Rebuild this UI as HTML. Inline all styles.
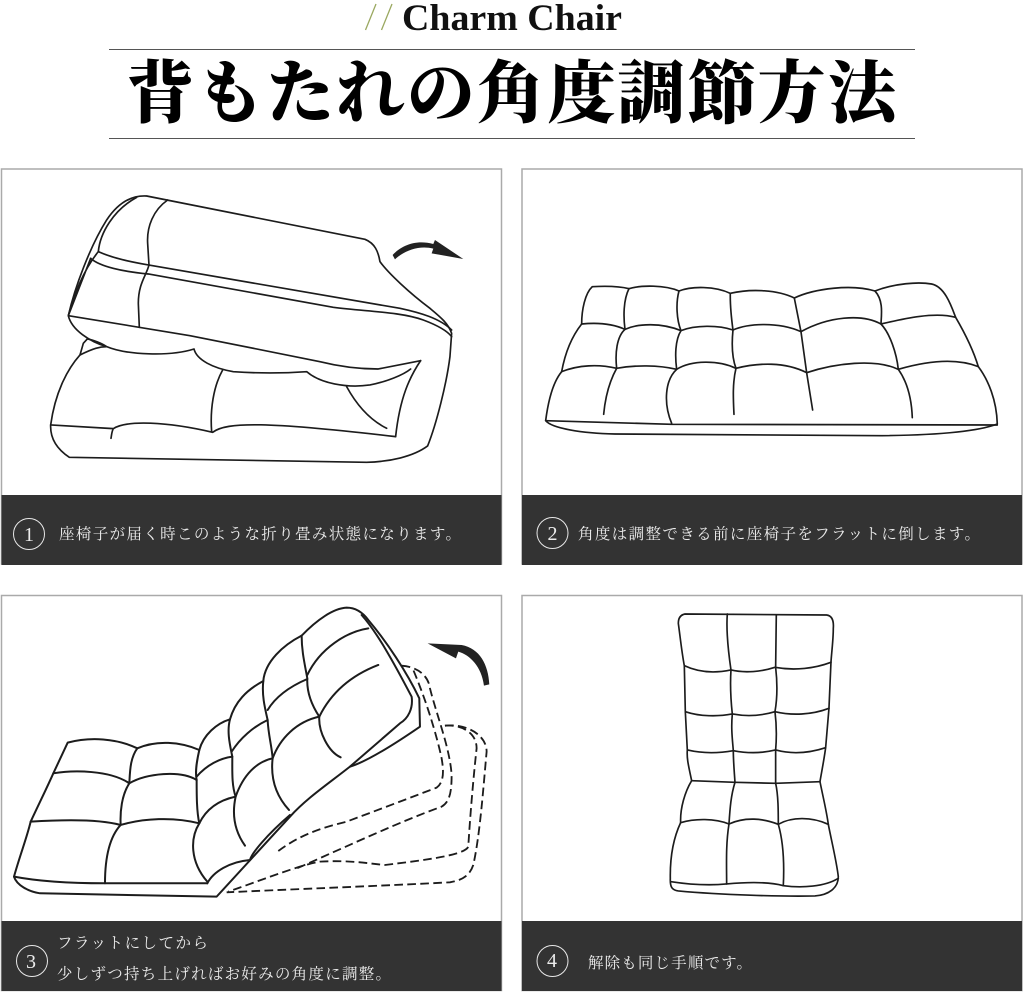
<!DOCTYPE html>
<html lang="ja"><head><meta charset="utf-8"><title>背もたれの角度調節方法</title>
<style>
html,body{margin:0;padding:0;background:#fff}
svg{display:block}
.cap{font-family:"Liberation Serif","Noto Serif CJK SC",serif;font-size:15.5px;fill:#ececec}
.num{font-family:"Liberation Serif",serif;font-size:20px;fill:#ececec;text-anchor:middle}
.l{fill:none;stroke:#1c1c1c;stroke-width:5;stroke-linejoin:round;stroke-linecap:round}
.t{stroke-width:6}
.d{fill:none;stroke:#1c1c1c;stroke-width:5.5;stroke-dasharray:26 13}
.p{fill:#fff;stroke:#aaa;stroke-width:1.5}
.b{fill:#333}
.c{fill:none;stroke:#e8e8e8;stroke-width:1}
</style></head><body>
<svg xmlns="http://www.w3.org/2000/svg" width="1024" height="995" viewBox="0 0 1024 995">
<rect width="1024" height="995" fill="#fff"/>

<line x1="365.500" y1="30" x2="376" y2="4" stroke="#9aa860" stroke-width="1.3"/>
<line x1="381.500" y1="30" x2="392" y2="4" stroke="#9aa860" stroke-width="1.3"/>
<text x="402" y="30" font-family="Liberation Serif,serif" font-weight="700" font-size="37" fill="#111" textLength="220" lengthAdjust="spacingAndGlyphs">Charm Chair</text>
<line x1="109" y1="49.500" x2="915" y2="49.500" stroke="#555" stroke-width="1"/>
<line x1="109" y1="138.500" x2="915" y2="138.500" stroke="#555" stroke-width="1"/>
<text x="126" y="117" font-family="Liberation Serif,Noto Serif CJK SC,serif" font-weight="900" font-size="68" fill="#000" textLength="770" lengthAdjust="spacing">背もたれの角度調節方法</text>

<rect class="p" x="1.5" y="169" width="500" height="395"/>
<rect class="p" x="522" y="169" width="500" height="395"/>
<rect class="p" x="1.5" y="595.5" width="500" height="395"/>
<rect class="p" x="522" y="595.5" width="500" height="395"/>
<rect class="b" x="1.5" y="495" width="500" height="70"/>
<rect class="b" x="522" y="495" width="500" height="70"/>
<rect class="b" x="1.5" y="921" width="500" height="70"/>
<rect class="b" x="522" y="921" width="500" height="70"/>

<circle class="c" cx="29" cy="534" r="15.500"/><text class="num" x="29" y="541">1</text>
<circle class="c" cx="552.500" cy="533" r="15.500"/><text class="num" x="552.500" y="540">2</text>
<circle class="c" cx="32" cy="961" r="15.500"/><text class="num" x="31" y="968">3</text>
<circle class="c" cx="552.500" cy="961" r="15.500"/><text class="num" x="552" y="967">4</text>

<text class="cap" x="59" y="539" textLength="402" lengthAdjust="spacing">座椅子が届く時このような折り畳み状態になります。</text>
<text class="cap" x="578" y="539" textLength="402" lengthAdjust="spacing">角度は調整できる前に座椅子をフラットに倒します。</text>
<text class="cap" x="57" y="948" textLength="151" lengthAdjust="spacing">フラットにしてから</text>
<text class="cap" x="57" y="979" textLength="334" lengthAdjust="spacing">少しずつ持ち上げればお好みの角度に調整。</text>
<text class="cap" x="588" y="968" textLength="164" lengthAdjust="spacing">解除も同じ手順です。</text>

<g transform="translate(0,170) scale(.3333)">
<path class="l" d="M205 437C225 350 270 230 320 150C350 105 390 75 440 78L1095 208C1125 220 1135 245 1140 275C1165 310 1230 370 1290 415C1320 440 1345 460 1355 490L1350 560C1340 640 1310 760 1283 828C1240 860 1170 875 1100 877L208 862C175 840 150 810 152 765C165 670 200 600 240 555L250 520L262 507"/>
<path class="l" d="M295 245C340 265 390 275 445 285L1200 415C1260 428 1320 445 1355 480"/>
<path class="l" d="M272 265C300 290 370 305 445 312L1000 412C1100 425 1200 425 1270 450C1310 465 1340 480 1355 500"/>
<path class="l" d="M205 437C220 380 250 300 295 245C300 190 340 120 410 82M205 437L272 265"/>
<path class="l" d="M503 90C460 120 440 170 443 220L447 285C440 315 415 340 415 400L418 472"/>
<path class="l" d="M205 437L570 497L960 575C1020 590 1080 597 1135 597L1262 572"/>
<path class="l" d="M205 437C215 480 270 515 320 530C380 555 510 560 582 537C590 570 640 595 700 605C770 610 850 610 920 605C960 640 1040 655 1110 645C1160 635 1210 615 1232 597"/>
<path class="l" d="M1262 572C1230 620 1200 680 1187 800"/>
<path class="l" d="M152 765L340 776C335 785 335 795 333 805M340 776C380 750 500 755 638 787C680 755 800 755 1187 800"/>
<path class="l" d="M668 600C640 650 630 720 635 785M1040 650C1070 705 1110 750 1160 775"/>
<path class="l" d="M240 555C280 535 300 530 320 530M262 507C280 510 305 520 320 530"/>
<path fill="#222" d="M1178 255C1205 225 1250 208 1300 222L1305 210L1390 267L1295 250L1300 236C1260 225 1215 240 1185 268Z"/>
</g>

<g transform="translate(515,270) scale(.3333)">
<path class="l" d="M92 452C100 390 115 335 140 305C150 250 170 200 200 162C200 120 210 70 232 50C270 48 310 48 342 56C380 45 450 45 492 63C530 48 600 48 646 70C710 55 790 60 838 84C900 55 1010 42 1080 63C1140 40 1210 35 1250 42C1290 50 1310 110 1322 142C1350 190 1375 240 1390 290C1420 330 1445 390 1447 462C1400 480 1300 495 1100 497L300 492C200 490 110 475 92 452Z"/>
<path class="l" d="M92 452L470 463L1447 465"/>
<path class="l" d="M200 162C240 158 290 160 330 178C370 160 440 158 498 182C540 165 610 165 654 180C700 160 790 155 858 185C940 140 1040 130 1098 162C1170 145 1260 125 1322 142"/>
<path class="l" d="M140 305C190 285 250 282 305 295C360 285 430 285 485 298C530 270 610 270 663 295C730 278 810 275 875 308C960 280 1080 265 1150 298C1230 275 1320 262 1390 290"/>
<path class="l" d="M342 56C325 90 325 140 330 178C305 200 300 250 305 295C280 340 270 390 266 433"/>
<path class="l" d="M492 63C482 100 485 150 498 182C480 210 480 260 485 298C450 330 445 400 470 460"/>
<path class="l" d="M646 70C645 110 650 150 654 180C650 220 650 260 663 295C652 340 655 390 657 433"/>
<path class="l" d="M838 84L858 185L875 308L893 420"/>
<path class="l" d="M1080 63C1105 90 1100 130 1098 162C1125 190 1145 250 1150 298C1180 340 1190 390 1192 443"/>
</g>

<g transform="translate(0,595) scale(.3333)">
<path class="l t" d="M650 905L120 895C85 890 50 870 42 845C60 780 80 730 92 680C120 620 140 580 160 535L203 443C270 425 350 430 412 460C470 435 540 440 598 465C610 420 650 385 690 373C705 320 740 285 790 258C795 200 850 150 905 122C950 75 1000 40 1040 38C1070 38 1090 55 1105 75C1160 140 1220 230 1258 310L1260 395C1180 450 1100 500 1050 515C980 570 920 610 870 665L650 905Z"/>
<path class="l t" d="M622 865C640 830 690 800 750 795C755 775 800 720 870 660"/>
<path class="l t" d="M1085 60C1130 110 1180 200 1235 305C1240 340 1225 370 1200 385L1050 515"/>
<path class="l t" d="M42 845C120 860 220 865 315 865L622 865"/>
<path class="l t" d="M160 535C220 525 330 525 388 565C440 535 540 525 590 555M92 680C170 675 290 670 362 690C430 670 520 665 598 685"/>
<path class="l t" d="M412 460C390 490 390 530 388 565C365 600 360 650 362 690C325 730 315 800 315 865"/>
<path class="l t" d="M598 465C590 500 585 530 590 555C590 600 590 650 598 685C570 730 570 800 622 860"/>
<path class="l t" d="M690 373C680 410 690 450 697 485C697 530 695 570 707 605C695 660 705 710 735 752"/>
<path class="l t" d="M790 258C785 300 795 340 803 375C805 420 815 450 818 490C810 560 835 610 867 645"/>
<path class="l t" d="M905 122C905 170 915 210 922 250C920 290 935 330 958 365C955 410 985 470 1022 487"/>
<path class="l t" d="M590 545C620 510 660 490 697 485M695 470C720 430 760 395 803 375M803 345C830 300 880 270 922 252M922 240C960 160 1040 110 1105 100"/>
<path class="l t" d="M598 685C620 640 660 615 707 605C730 540 770 500 818 490C840 430 890 380 958 365C1000 280 1070 235 1135 210"/>
<path class="d" d="M835 768C900 720 960 700 1040 680C1120 650 1200 620 1310 578C1335 560 1330 520 1325 490C1310 420 1280 320 1240 225"/>
<path class="d" d="M1205 212C1250 215 1285 240 1290 280C1310 360 1350 460 1355 540C1355 590 1350 620 1325 635C1200 680 1050 750 880 825"/>
<path class="d" d="M1335 392C1380 388 1430 410 1430 460C1420 550 1410 670 1405 755C1395 780 1280 795 1155 810C1100 805 1050 795 960 800C900 810 800 850 685 890"/>
<path class="d" d="M1335 392C1400 385 1460 420 1460 470C1450 580 1440 720 1420 810C1410 840 1390 855 1350 862C1200 870 950 880 680 892"/>
<path fill="#222" d="M1452 272L1468 268C1465 210 1440 160 1385 150L1283 145L1368 190L1375 170C1410 180 1445 215 1452 272Z"/>
</g>

<g transform="translate(515,595) scale(.3333)">
<path class="l" d="M510 57L935 60C950 62 957 75 955 100C955 135 950 170 948 202L942 340L932 458C928 490 920 530 915 560C925 610 935 650 940 688C950 740 965 800 970 845C970 880 940 900 900 903C800 905 620 900 490 888C470 885 465 875 466 850C465 790 475 730 497 683C495 640 510 590 530 557C520 510 515 490 517 465L511 350L508 212C500 170 495 120 490 85C490 70 495 60 510 57Z"/>
<path class="l" d="M468 860C520 868 580 872 635 867C690 862 760 860 805 872C860 880 930 875 970 850"/>
<path class="l" d="M508 212C550 232 600 235 648 225C690 235 740 230 780 217C840 228 900 220 948 202"/>
<path class="l" d="M511 350C555 365 610 365 652 357C695 365 740 362 780 350C830 362 890 360 942 340"/>
<path class="l" d="M517 465C560 475 610 475 655 467C695 475 740 475 782 465C830 478 880 475 932 458"/>
<path class="l" d="M530 557L660 562L782 565L915 560"/>
<path class="l" d="M497 683C540 670 600 670 642 687C690 665 745 670 790 688C830 665 890 665 940 688"/>
<path class="l" d="M637 57C633 110 640 170 648 225C645 270 648 320 652 357C648 400 652 430 655 467C655 500 658 530 660 562C648 600 645 640 642 687C632 750 635 810 635 867"/>
<path class="l" d="M784 60L782 217C787 260 787 310 780 350C785 390 785 430 782 465L782 565C790 600 790 650 790 688C805 740 808 810 805 872"/>
</g>
</svg>
</body></html>
